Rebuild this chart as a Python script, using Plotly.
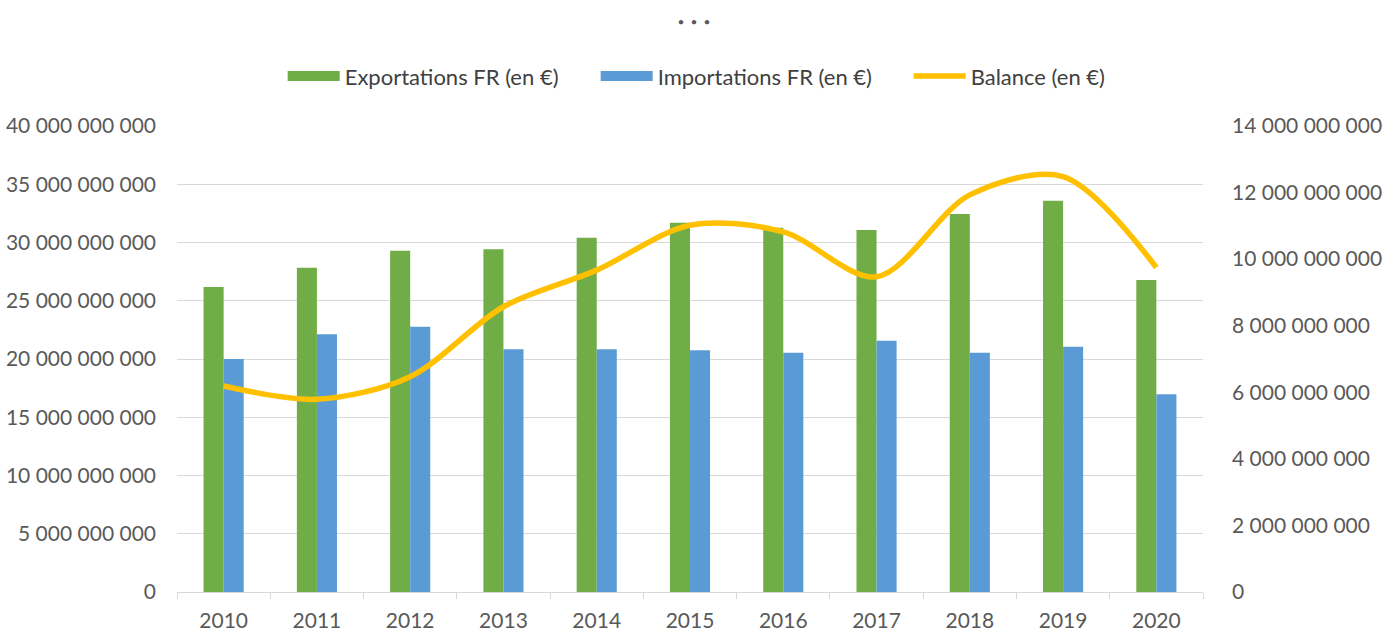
import plotly.graph_objects as go

years = ["2010", "2011", "2012", "2013", "2014", "2015", "2016", "2017", "2018", "2019", "2020"]
exportations = [26.18e9, 27.84e9, 29.30e9, 29.41e9, 30.41e9, 31.70e9, 31.27e9, 31.07e9, 32.45e9, 33.59e9, 26.78e9]
importations = [20.00e9, 22.12e9, 22.77e9, 20.83e9, 20.83e9, 20.75e9, 20.54e9, 21.57e9, 20.54e9, 21.06e9, 16.97e9]
balance = [6.19e9, 5.79e9, 6.47e9, 8.57e9, 9.67e9, 11.02e9, 10.82e9, 9.47e9, 11.93e9, 12.48e9, 9.75e9]

left_ticks = [0, 5e9, 10e9, 15e9, 20e9, 25e9, 30e9, 35e9, 40e9]
right_ticks = [0, 2e9, 4e9, 6e9, 8e9, 10e9, 12e9, 14e9]

names = ["Exportations FR (en €)", "Importations FR (en €)", "Balance (en €)"]
colors = ["#70AD47", "#5B9BD5", "#FFC000"]

font_family = "Lato, 'Open Sans', sans-serif"
gray = "#595959"

fig = go.Figure()
fig.add_trace(go.Bar(x=years, y=exportations, name=names[0], showlegend=False, legendgroup="exp",
                     marker=dict(color=colors[0], line=dict(width=0))))
fig.add_trace(go.Bar(x=years, y=importations, name=names[1], showlegend=False, legendgroup="imp",
                     marker=dict(color=colors[1], line=dict(width=0))))
# legend proxies giving wide rectangular swatches
fig.add_trace(go.Scatter(x=[None], y=[None], mode="lines", name=names[0], legendgroup="exp",
                         line=dict(color=colors[0], width=13), hoverinfo="skip"))
fig.add_trace(go.Scatter(x=[None], y=[None], mode="lines", name=names[1], legendgroup="imp",
                         line=dict(color=colors[1], width=13), hoverinfo="skip"))
fig.add_trace(go.Scatter(x=years, y=balance, name=names[2], yaxis="y2",
                         mode="lines", line=dict(color=colors[2], width=5.5, shape="spline", smoothing=0.9)))

fig.update_layout(
    width=1388, height=632,
    paper_bgcolor="white", plot_bgcolor="white",
    separators=", ",
    font=dict(family=font_family, size=21, color=gray),
    margin=dict(l=177, r=185, t=126, b=40, autoexpand=False),
    barmode="group", bargap=0.57, bargroupgap=0,
    title=dict(text="•  •  •", x=0.5, xanchor="center", y=0.965, yanchor="middle",
               font=dict(size=12, color=gray)),
    legend=dict(orientation="h", x=0.103, xanchor="left", y=1.107, yanchor="middle",
                font=dict(size=22, color="#404040"), itemwidth=52, traceorder="normal",
                tracegroupgap=0, entrywidth=246),
    xaxis=dict(type="category", showgrid=False, showline=True, linecolor="#d9d9d9", linewidth=1,
               ticks="outside", tickson="boundaries", ticklen=6, tickcolor="#d9d9d9",
               ticklabelstandoff=10, automargin=False, tickfont=dict(size=21, color=gray)),
    yaxis=dict(range=[0, 40e9], tickvals=left_ticks, tickformat=",d", showgrid=True,
               gridcolor="#d9d9d9", gridwidth=1, zeroline=False, showline=False,
               ticks="", ticklabelstandoff=20, automargin=False, tickfont=dict(size=21, color=gray)),
    yaxis2=dict(range=[0, 14e9], tickvals=right_ticks, tickformat=",d", overlaying="y",
                side="right", showgrid=False, zeroline=False, showline=False,
                ticks="", ticklabelstandoff=28, automargin=False, tickfont=dict(size=21, color=gray)),
)

# remove the default page margin so the 1388x632 figure fills the window exactly
fig.write_html("out.html", config={"displayModeBar": False},
               post_script="document.body.style.margin='0';document.body.style.overflow='hidden';")
